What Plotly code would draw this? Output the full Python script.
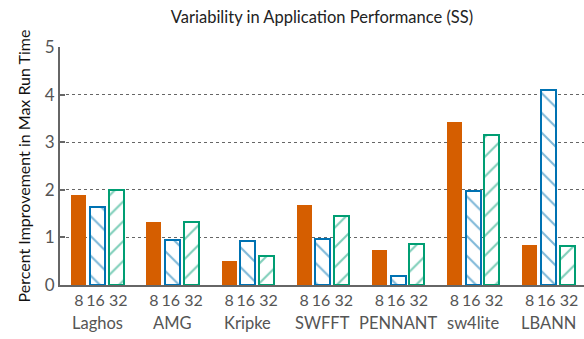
import plotly.graph_objects as go

apps = ["Laghos", "AMG", "Kripke", "SWFFT", "PENNANT", "sw4lite", "LBANN"]
sizes = ["8", "16", "32"]
vals_8 = [1.90, 1.32, 0.50, 1.69, 0.73, 3.42, 0.84]
vals_16 = [1.63, 0.94, 0.92, 0.97, 0.18, 1.97, 4.10]
vals_32 = [2.00, 1.33, 0.61, 1.44, 0.86, 3.15, 0.81]
y_ticks = [0, 1, 2, 3, 4, 5]

series = [vals_8, vals_16, vals_32]
colors = ["#D55E00", "#0072B2", "#009E73"]
shapes = ["", "\\", "/"]

GROUP = 4  # slots per application (3 bars + gap)

fig = go.Figure()
for j, (vals, col, shp) in enumerate(zip(series, colors, shapes)):
    xs = [i * GROUP + j for i in range(len(apps))]
    if shp:
        marker = dict(color="white",
                      line=dict(color=col, width=2),
                      pattern=dict(shape=shp, fgcolor=col, bgcolor="white",
                                   size=14, solidity=0.15))
    else:
        marker = dict(color=col, line=dict(color=col, width=0))
    fig.add_trace(go.Bar(x=xs, y=vals, width=0.8, marker=marker,
                         name=sizes[j], showlegend=False))

# small spaces keep the tick labels visually separated
pad = {"8": "8", "16": "16\u2005", "32": "\u200532"}
tickvals = [i * GROUP + j for i in range(len(apps)) for j in range(3)]
ticktext = [pad[sizes[j]] for i in range(len(apps)) for j in range(3)]

for i, a in enumerate(apps):
    fig.add_annotation(x=i * GROUP + 1, y=0, xref="x", yref="paper",
                       text=a, showarrow=False, yanchor="top", yshift=-26,
                       font=dict(size=16.5, color="#555555", family="Lato"))

fig.update_layout(
    width=584, height=339,
    margin=dict(l=60, r=0, t=47, b=54),
    plot_bgcolor="white", paper_bgcolor="white",
    font=dict(family="Lato", color="#555555"),
    title=dict(text="Variability in Application Performance (SS)",
               x=0.5, xref="paper", y=0.95, yanchor="middle",
               font=dict(size=16.5, color="#222222", family="Lato")),
    bargap=0,
)
fig.update_xaxes(range=[-1, 26.9], tickvals=tickvals, ticktext=ticktext,
                 showgrid=False, showline=True, linecolor="#666666", linewidth=2,
                 ticks="", tickangle=0, automargin=False,
                 tickfont=dict(size=16, color="#555555", family="Lato"),
                 zeroline=False)
fig.update_yaxes(range=[0, 5], tickvals=y_ticks, showgrid=True,
                 gridcolor="#666666", griddash="dot", gridwidth=1,
                 showline=True, linecolor="#666666", linewidth=2,
                 ticks="inside", ticklen=5, tickcolor="#666666", tickwidth=1.5,
                 automargin=False,
                 tickfont=dict(size=17, color="#555555"), zeroline=False,
                 title=dict(text="Percent Improvement in Max Run Time",
                            font=dict(size=16, color="#111111"), standoff=10))

fig.write_html("out.html", config={"displayModeBar": False},
               post_script="document.body.style.margin='0px';")
